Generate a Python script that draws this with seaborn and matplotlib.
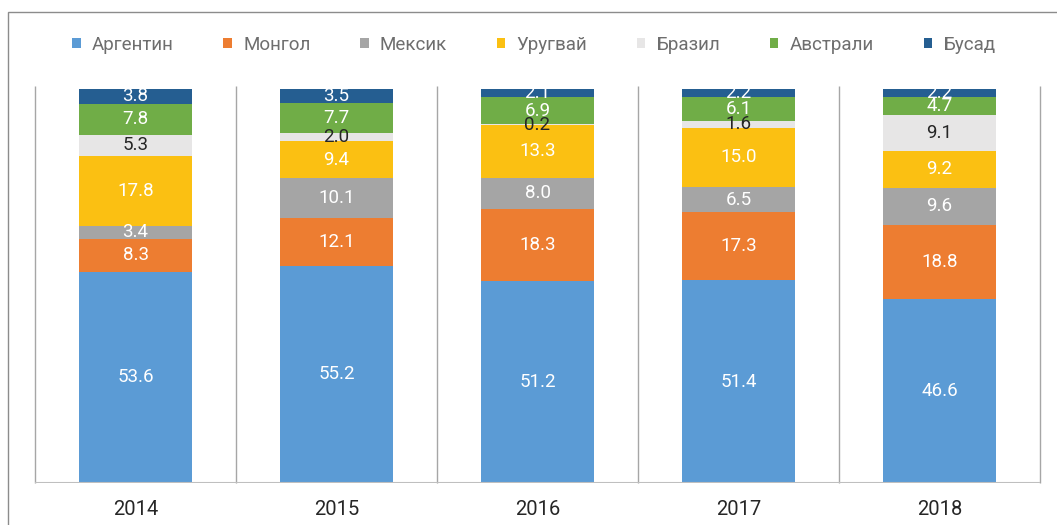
import matplotlib
matplotlib.use("Agg")
import matplotlib.pyplot as plt
from matplotlib.patches import Patch, Rectangle
import seaborn as sns
import numpy as np
import pandas as pd

years = ["2014", "2015", "2016", "2017", "2018"]
series = ["Аргентин", "Монгол", "Мексик", "Уругвай", "Бразил", "Австрали", "Бусад"]
argentin = [53.6, 55.2, 51.2, 51.4, 46.6]
mongol = [8.3, 12.1, 18.3, 17.3, 18.8]
meksik = [3.4, 10.1, 8.0, 6.5, 9.6]
urugvai = [17.8, 9.4, 13.3, 15.0, 9.2]
brazil = [5.3, 2.0, 0.2, 1.6, 9.1]
avstrali = [7.8, 7.7, 6.9, 6.1, 4.7]
busad = [3.8, 3.5, 2.1, 2.2, 2.2]

colors = ["#5B9BD5", "#ED7D31", "#A5A5A5", "#FBC012", "#E7E6E6", "#70AD47", "#255E91"]
label_colors = ["white", "white", "white", "white", "#262626", "white", "white"]

values = [argentin, mongol, meksik, urugvai, brazil, avstrali, busad]
df = pd.DataFrame(dict(zip(series, values)), index=years)
cum = df.cumsum(axis=1)

sns.set_theme(style="white")
plt.rcParams["font.family"] = ["Roboto", "DejaVu Sans"]

fig = plt.figure(figsize=(10.57, 5.25), dpi=100)
ax = fig.add_axes([35 / 1057, 1 - 483 / 525, 1005 / 1057, 394 / 525])

# stacked bars: draw the running totals from the top series down
for i in range(len(series) - 1, -1, -1):
    d = pd.DataFrame({"Year": years, "Value": cum[series[i]].values})
    sns.barplot(data=d, x="Year", y="Value", color=colors[i], saturation=1,
                width=0.567, ax=ax, errorbar=None, linewidth=0, edgecolor="none")

for i, s in enumerate(series):
    for j, y in enumerate(years):
        v = df.loc[y, s]
        mid = cum.loc[y, s] - v / 2
        ax.text(j, mid, f"{v:.1f}", ha="center", va="center",
                fontsize=13.5, color=label_colors[i])

ax.set_ylim(0, 100)
ax.set_xlim(-0.5, 4.5)
ax.vlines(np.arange(-0.5, 5, 1), 0, 100.8, colors="#A6A6A6", lw=1, clip_on=False)
ax.axhline(0, color="#BFBFBF", lw=1.5)
for sp in ax.spines.values():
    sp.set_visible(False)
ax.set_yticks([])
ax.set_xlabel("")
ax.set_ylabel("")
ax.tick_params(axis="x", length=0, pad=12, labelsize=14.5, labelcolor="#262626")

handles = [Patch(facecolor=c, edgecolor="none") for c in colors]
fig.legend(handles, series, loc="center", bbox_to_anchor=(0.505, 1 - 45 / 525),
           ncol=7, frameon=False, fontsize=13.5, labelcolor="#6E6E6E",
           handlelength=0.45, handleheight=0.45, handletextpad=0.6,
           columnspacing=2.65)

fig.add_artist(Rectangle((8 / 1057, -0.5), 1.2, 1.5 - 12 / 525,
                         transform=fig.transFigure, fill=False,
                         edgecolor="#8C8C8C", lw=1))

fig.savefig("out.png", dpi=100)
